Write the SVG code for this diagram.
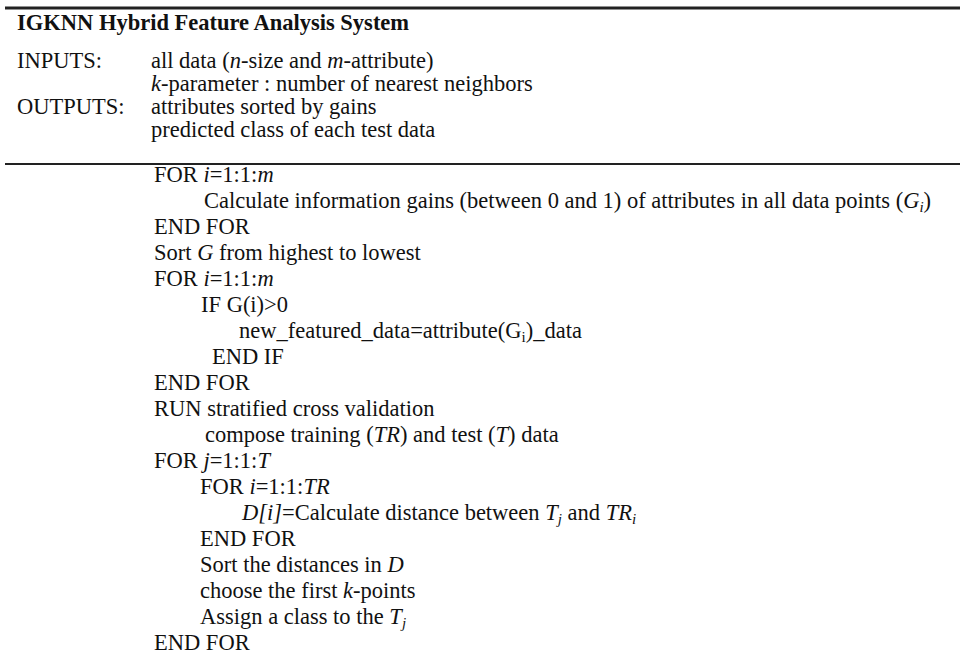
<svg xmlns="http://www.w3.org/2000/svg" width="960" height="660" viewBox="0 0 960 660">
<style>
text{font-family:"Liberation Serif","Times New Roman",serif;font-size:22.5px;fill:#111}
.b{font-weight:bold}
.i{font-style:italic}
.s{font-size:15px}
.rule{stroke:#222;fill:none}
</style>
<rect width="960" height="660" fill="#fff"/>
<g id="frame">
<line class="rule" x1="5" y1="8" x2="960" y2="8" stroke-width="3"/>
<line class="rule" x1="5" y1="164" x2="960" y2="164" stroke-width="2"/>
</g>
<g id="header">
<text class="b" x="17" y="30">IGKNN Hybrid Feature Analysis System</text>
<text x="17" y="68">INPUTS:</text>
<text x="151" y="68">all data (<tspan class="i">n</tspan>-size and <tspan class="i">m</tspan>-attribute)</text>
<text x="151" y="91"><tspan class="i">k</tspan>-parameter : number of nearest neighbors</text>
<text x="17" y="114">OUTPUTS:</text>
<text x="151" y="114">attributes sorted by gains</text>
<text x="151" y="137">predicted class of each test data</text>
</g>
<g id="body">
<text x="154" y="182">FOR <tspan class="i">i</tspan>=1:1:<tspan class="i">m</tspan></text>
<text x="204" y="208">Calculate information gains (between 0 and 1) of attributes in all data points (<tspan class="i">G</tspan><tspan class="i s" dy="4">i</tspan><tspan dy="-4">)</tspan></text>
<text x="154" y="234">END FOR</text>
<text x="154" y="260">Sort <tspan class="i">G</tspan> from highest to lowest</text>
<text x="154" y="286">FOR <tspan class="i">i</tspan>=1:1:<tspan class="i">m</tspan></text>
<text x="201" y="312">IF G(i)&gt;0</text>
<text x="239" y="338">new_featured_data=attribute(G<tspan class="s" dy="4">i</tspan><tspan dy="-4">)_data</tspan></text>
<text x="212" y="364">END IF</text>
<text x="154" y="390">END FOR</text>
<text x="154" y="416">RUN stratified cross validation</text>
<text x="205" y="442">compose training (<tspan class="i">TR</tspan>) and test (<tspan class="i">T</tspan>) data</text>
<text x="154" y="468">FOR <tspan class="i">j</tspan>=1:1:<tspan class="i">T</tspan></text>
<text x="200" y="494">FOR <tspan class="i">i</tspan>=1:1:<tspan class="i">TR</tspan></text>
<text x="242" y="520"><tspan class="i">D[i]</tspan>=Calculate distance between <tspan class="i">T</tspan><tspan class="i s" dy="4">j</tspan><tspan dy="-4"> and </tspan><tspan class="i">TR</tspan><tspan class="i s" dy="4">i</tspan></text>
<text x="200" y="546">END FOR</text>
<text x="200" y="572">Sort the distances in <tspan class="i">D</tspan></text>
<text x="200" y="598">choose the first <tspan class="i">k</tspan>-points</text>
<text x="200" y="624">Assign a class to the <tspan class="i">T</tspan><tspan class="i s" dy="4">j</tspan></text>
<text x="154" y="650">END FOR</text>
</g>
</svg>
